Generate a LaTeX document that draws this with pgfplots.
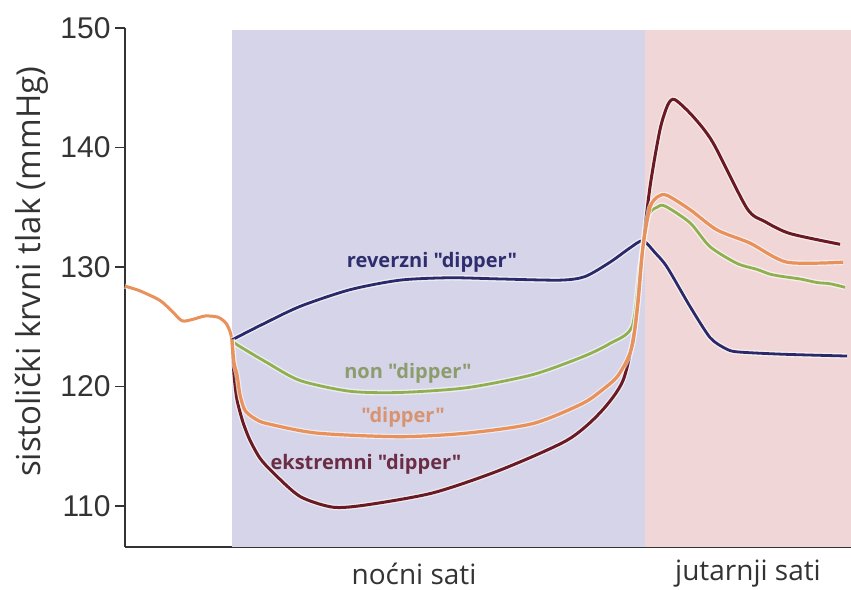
\documentclass[border=0pt]{standalone}
\usepackage{pgfplots}
\pgfplotsset{compat=1.18}
\usepackage{fontspec}
\setmainfont{Open Sans}[Ligatures=TeXOff]
\newfontfamily\arial{Liberation Sans}
\definecolor{nightbg}{HTML}{D6D4E8}
\definecolor{mornbg}{HTML}{F0D6D6}
\definecolor{cblue}{HTML}{2A2A6A}
\definecolor{cgreen}{HTML}{90B050}
\definecolor{corange}{HTML}{E8915A}
\definecolor{cred}{HTML}{6A1A22}
\definecolor{lblue}{HTML}{2E2E6E}
\definecolor{lgreen}{HTML}{8C9C6C}
\definecolor{lorange}{HTML}{D89470}
\definecolor{lred}{HTML}{6B2D45}
\definecolor{axgray}{HTML}{333333}
\begin{document}
\begin{tikzpicture}
\useasboundingbox (-125bp,-43bp) rectangle (726bp,547bp);
\begin{axis}[
  at={(0,0)}, anchor=south west,
  scale only axis, width=726bp, height=519bp,
  xmin=125, xmax=851, ymin=106.57, ymax=150,
  axis x line*=bottom, axis y line*=left,
  axis line style={axgray, line width=2.2bp, -},
  xtick=\empty,
  ytick={110,120,130,140,150},
  tick align=outside, major tick length=10bp,
  tick style={axgray, line width=1.5bp},
  /pgf/number format/assume math mode=true,
  yticklabel style={font=\arial\fontsize{30bp}{34bp}\selectfont, text=axgray, xshift=-1bp},
  clip=false,
  every axis plot/.append style={smooth, tension=0.45, no markers},
]
\fill[nightbg] (axis cs:232,106.57) rectangle (axis cs:645,149.85);
\fill[mornbg] (axis cs:645,106.57) rectangle (axis cs:851,149.85);

% start segment
\addplot[white, opacity=0.6, line width=5.5bp] coordinates {(125,128.4) (140,128.0) (160,127.2) (172,126.3) (182,125.5) (192,125.6) (205,125.9) (218,125.8) (226,125.3) (230,124.6) (232,123.9)};
\addplot[corange, line width=3bp] coordinates {(125,128.4) (140,128.0) (160,127.2) (172,126.3) (182,125.5) (192,125.6) (205,125.9) (218,125.8) (226,125.3) (230,124.6) (232,123.9)};

% reverzni (blue)
\addplot[white, opacity=0.6, line width=5.5bp] coordinates {(232,123.9) (260,125.1) (300,126.7) (350,128.1) (400,128.9) (450,129.1) (500,129.0) (560,128.9) (585,129.2) (610,130.4) (630,131.6) (643,132.2) (655,131.2) (667,130.0) (690,126.7) (710,124.1) (725,123.2) (737,122.9) (783,122.7) (847,122.55)};
\addplot[cblue, line width=2.8bp] coordinates {(232,123.9) (260,125.1) (300,126.7) (350,128.1) (400,128.9) (450,129.1) (500,129.0) (560,128.9) (585,129.2) (610,130.4) (630,131.6) (643,132.2) (655,131.2) (667,130.0) (690,126.7) (710,124.1) (725,123.2) (737,122.9) (783,122.7) (847,122.55)};

% non dipper (green)
\addplot[white, opacity=0.6, line width=5.5bp] coordinates {(232,123.9) (237,123.5) (267,122.0) (300,120.5) (350,119.6) (400,119.5) (467,119.9) (533,121.0) (583,122.5) (610,123.6) (632,125.0) (640,130.0) (648,134.2) (657,135.0) (665,135.1) (690,133.7) (710,131.7) (737,130.3) (757,129.8) (770,129.4) (783,129.2) (800,129.0) (817,128.7) (830,128.6) (845,128.3)};
\addplot[cgreen, line width=2.8bp] coordinates {(232,123.9) (237,123.5) (267,122.0) (300,120.5) (350,119.6) (400,119.5) (467,119.9) (533,121.0) (583,122.5) (610,123.6) (632,125.0) (640,130.0) (648,134.2) (657,135.0) (665,135.1) (690,133.7) (710,131.7) (737,130.3) (757,129.8) (770,129.4) (783,129.2) (800,129.0) (817,128.7) (830,128.6) (845,128.3)};

% ekstremni dipper (dark red)
\addplot[white, opacity=0.6, line width=5.5bp] coordinates {(232,123.9) (234,121.0) (237,118.9) (243,117.0) (250,115.5) (260,114.0) (273,112.8) (300,110.8) (333,109.9) (367,110.1) (433,111.1) (500,113.0) (567,115.5) (600,117.8) (623,120.5) (635,125.0) (642,131.0) (650,136.7) (660,141.5) (668,143.6) (675,144.0) (693,142.6) (713,140.4) (747,134.9) (765,133.8) (790,132.8) (840,131.9)};
\addplot[cred, line width=3bp] coordinates {(232,123.9) (234,121.0) (237,118.9) (243,117.0) (250,115.5) (260,114.0) (273,112.8) (300,110.8) (333,109.9) (367,110.1) (433,111.1) (500,113.0) (567,115.5) (600,117.8) (623,120.5) (635,125.0) (642,131.0) (650,136.7) (660,141.5) (668,143.6) (675,144.0) (693,142.6) (713,140.4) (747,134.9) (765,133.8) (790,132.8) (840,131.9)};

% dipper (orange)
\addplot[white, opacity=0.6, line width=5.5bp] coordinates {(232,123.9) (234,122.0) (237,121.0) (240,119.3) (245,118.0) (255,117.3) (267,116.9) (317,116.1) (400,115.8) (467,116.1) (533,116.9) (583,118.6) (605,119.9) (617,120.8) (627,122.2) (633,123.7) (638,127.0) (643,131.7) (650,135.0) (658,135.9) (667,136.0) (690,134.8) (717,133.1) (750,132.0) (787,130.4) (843,130.4)};
\addplot[corange, line width=3.2bp] coordinates {(232,123.9) (234,122.0) (237,121.0) (240,119.3) (245,118.0) (255,117.3) (267,116.9) (317,116.1) (400,115.8) (467,116.1) (533,116.9) (583,118.6) (605,119.9) (617,120.8) (627,122.2) (633,123.7) (638,127.0) (643,131.7) (650,135.0) (658,135.9) (667,136.0) (690,134.8) (717,133.1) (750,132.0) (787,130.4) (843,130.4)};

% labels
\node[text=lblue, font=\bfseries\fontsize{20bp}{24bp}\selectfont] at (axis cs:432,130.4) {reverzni "dipper"};
\node[text=lgreen, font=\bfseries\fontsize{20bp}{24bp}\selectfont] at (axis cs:408,121.1) {non "dipper"};
\node[text=lorange, font=\bfseries\fontsize{20bp}{24bp}\selectfont] at (axis cs:403,117.4) {"dipper"};
\node[text=lred, font=\bfseries\fontsize{20bp}{24bp}\selectfont] at (axis cs:366,113.5) {ekstremni "dipper"};

\node[text=axgray, font=\fontsize{28bp}{32bp}\selectfont] at (axis cs:414,104.35) {noćni sati};
\node[text=axgray, font=\fontsize{28bp}{32bp}\selectfont] at (axis cs:748,104.35) {jutarnji sati};
\node[rotate=90, text=axgray, font=\fontsize{33bp}{37bp}\selectfont] at (axis cs:32,129.6) {sistolički krvni tlak (mmHg)};
\end{axis}
\end{tikzpicture}
\end{document}
